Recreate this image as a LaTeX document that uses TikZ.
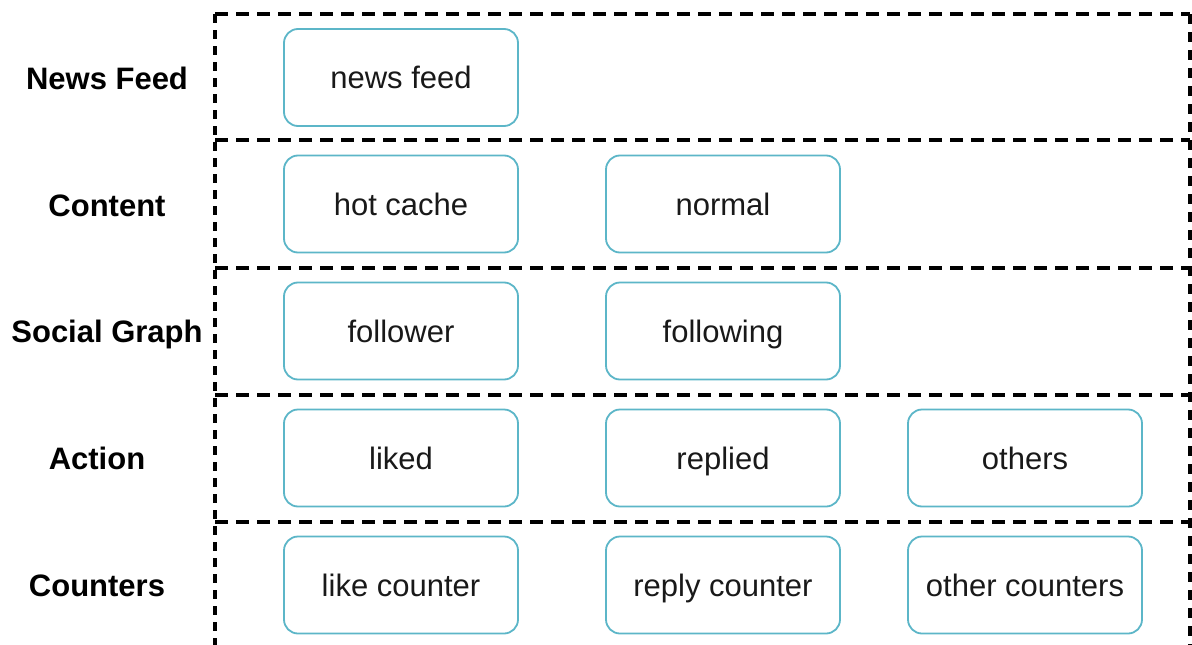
\documentclass[tikz,border=0pt]{standalone}
\usepackage{fontspec}
\setmainfont{Liberation Sans}
\definecolor{boxline}{RGB}{92,182,200}
\tikzset{
  item/.style={draw=boxline, line width=1.8pt, rounded corners=14pt, minimum width=234pt, minimum height=97pt, inner sep=0pt, font=\fontsize{31}{36}\selectfont, text=black!90, text height=22pt, text depth=0pt},
  rowlabel/.style={font=\fontsize{31}{36}\selectfont\bfseries, text=black, inner sep=0pt, text height=22pt, text depth=0pt},
  sep/.style={line width=3.5pt, dash pattern=on 13pt off 8pt, black},
}
\begin{document}
\begin{tikzpicture}[x=1pt,y=-1pt]
\useasboundingbox[fill=white] (0,0) rectangle (1192,645);
% frame lines
\coordinate (tl) at (215,14);
\coordinate (tr) at (1190,14);
\coordinate (bl) at (215,645);
\coordinate (br) at (1190,645);
\draw[sep] (tl) -- (tr);
\draw[sep] (215,140) -- (1190,140);
\draw[sep] (215,268) -- (1190,268);
\draw[sep] (215,395) -- (1190,395);
\draw[sep] (215,522) -- (1190,522);
\draw[sep, dash pattern=on 9pt off 7pt] (tl) -- (bl);
\draw[sep, dash pattern=on 10pt off 8pt] (tr) -- (br);
% row labels
\node[rowlabel] (lnews) at (107,78) {News Feed};
\node[rowlabel] (lcont) at (107,205) {Content};
\node[rowlabel] (lsoc) at (107,331) {Social Graph};
\node[rowlabel] (lact) at (97,458) {Action};
\node[rowlabel] (lcnt) at (97,585) {Counters};
% boxes
\node[item] (newsfeed) at (401,77.5) {news feed};
\node[item] (hot) at (401,204) {hot cache};
\node[item] (normal) at (723,204) {normal};
\node[item] (follower) at (401,331) {follower};
\node[item] (following) at (723,331) {following};
\node[item] (liked) at (401,458) {liked};
\node[item] (replied) at (723,458) {replied};
\node[item] (others) at (1025,458) {others};
\node[item] (likec) at (401,585) {like counter};
\node[item] (replyc) at (723,585) {reply counter};
\node[item] (otherc) at (1025,585) {other counters};
\end{tikzpicture}
\end{document}
